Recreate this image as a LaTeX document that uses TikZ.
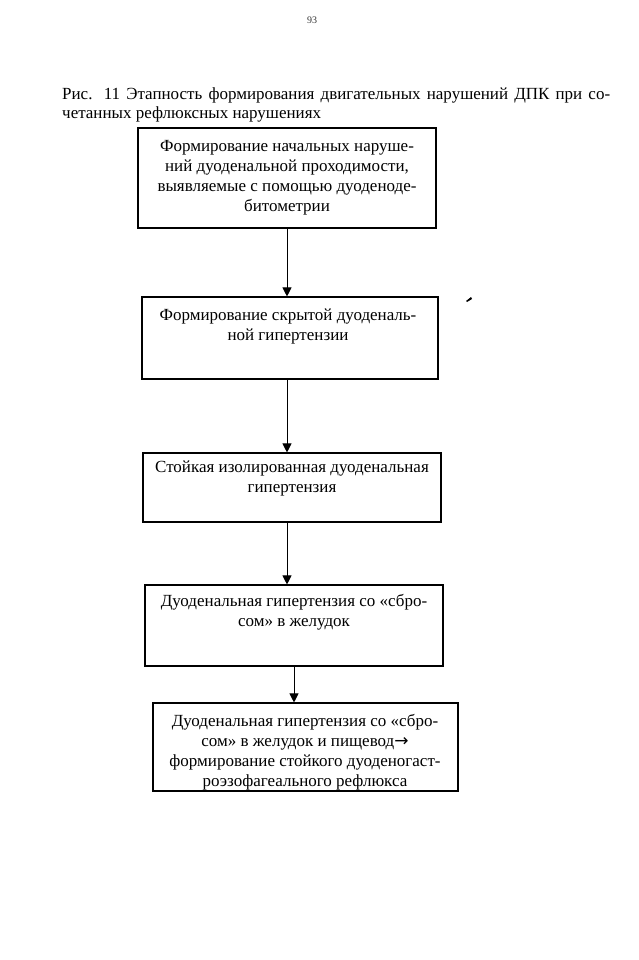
\documentclass[tikz,border=0pt]{standalone}
\usepackage{fontspec}
\setmainfont{Liberation Serif}
\newfontfamily\symfont{DejaVu Sans}
\usetikzlibrary{arrows.meta}
\begin{document}
\begin{tikzpicture}[x=1pt,y=-1pt,
  box/.style={draw, line width=1.1pt, inner sep=0pt},
  txt/.style={align=center, font=\fontsize{17}{20}\selectfont, inner sep=0pt},
  captxt/.style={anchor=west, font=\fontsize{17}{20}\selectfont, inner sep=0pt},
  link/.style={line width=0.9pt, -{Triangle[length=9pt,width=9pt]}}]
\useasboundingbox (0,0) rectangle (639,960);
\fill[white] (0,0) rectangle (639,960);
\node[font=\fontsize{10}{12}\selectfont, text=black!80] (pg) at (312,20) {93};
\node[captxt] (cap1) at (62,95) {\makebox[548pt][s]{Рис. 11 Этапность формирования двигательных нарушений ДПК при со-}};
\node[captxt] (cap2) at (62,114) {четанных рефлюксных нарушениях};
\node[box, minimum width=298pt, minimum height=100pt] (b1) at (287,178) {};
\node[box, minimum width=296pt, minimum height=82pt] (b2) at (290,338) {};
\node[box, minimum width=298pt, minimum height=69pt] (b3) at (292,487.5) {};
\node[box, minimum width=298pt, minimum height=81pt] (b4) at (294,625.5) {};
\node[box, minimum width=305pt, minimum height=88pt] (b5) at (305.5,747) {};
\node[txt] (t1) at (287,178) {Формирование начальных наруше-\\ний дуоденальной проходимости,\\выявляемые с помощью дуоденоде-\\битометрии};
\node[txt] (t2) at (288,326) {Формирование скрытой дуоденаль-\\ной гипертензии};
\node[txt] (t3) at (292,478) {Стойкая изолированная дуоденальная\\гипертензия};
\node[txt] (t4) at (294,612) {Дуоденальная гипертензия со «сбро-\\сом» в желудок};
\node[txt] (t5) at (305,752) {Дуоденальная гипертензия со «сбро-\\сом» в желудок и пищевод{\symfont\fontsize{17}{20}\selectfont →}\\формирование стойкого дуоденогаст-\\роэзофагеального рефлюкса};
\draw[link] (b1.south) -- (b1.south |- b2.north);
\draw[link] (b2.south -| b1.south) -- (b3.north -| b1.south);
\draw[link] (b3.south -| b1.south) -- (b4.north -| b1.south);
\draw[link] (b4.south) -- (b4.south |- b5.north);
\fill (466,301) -- (471,297) -- (472,299) -- (467,302) -- cycle;
\end{tikzpicture}
\end{document}
